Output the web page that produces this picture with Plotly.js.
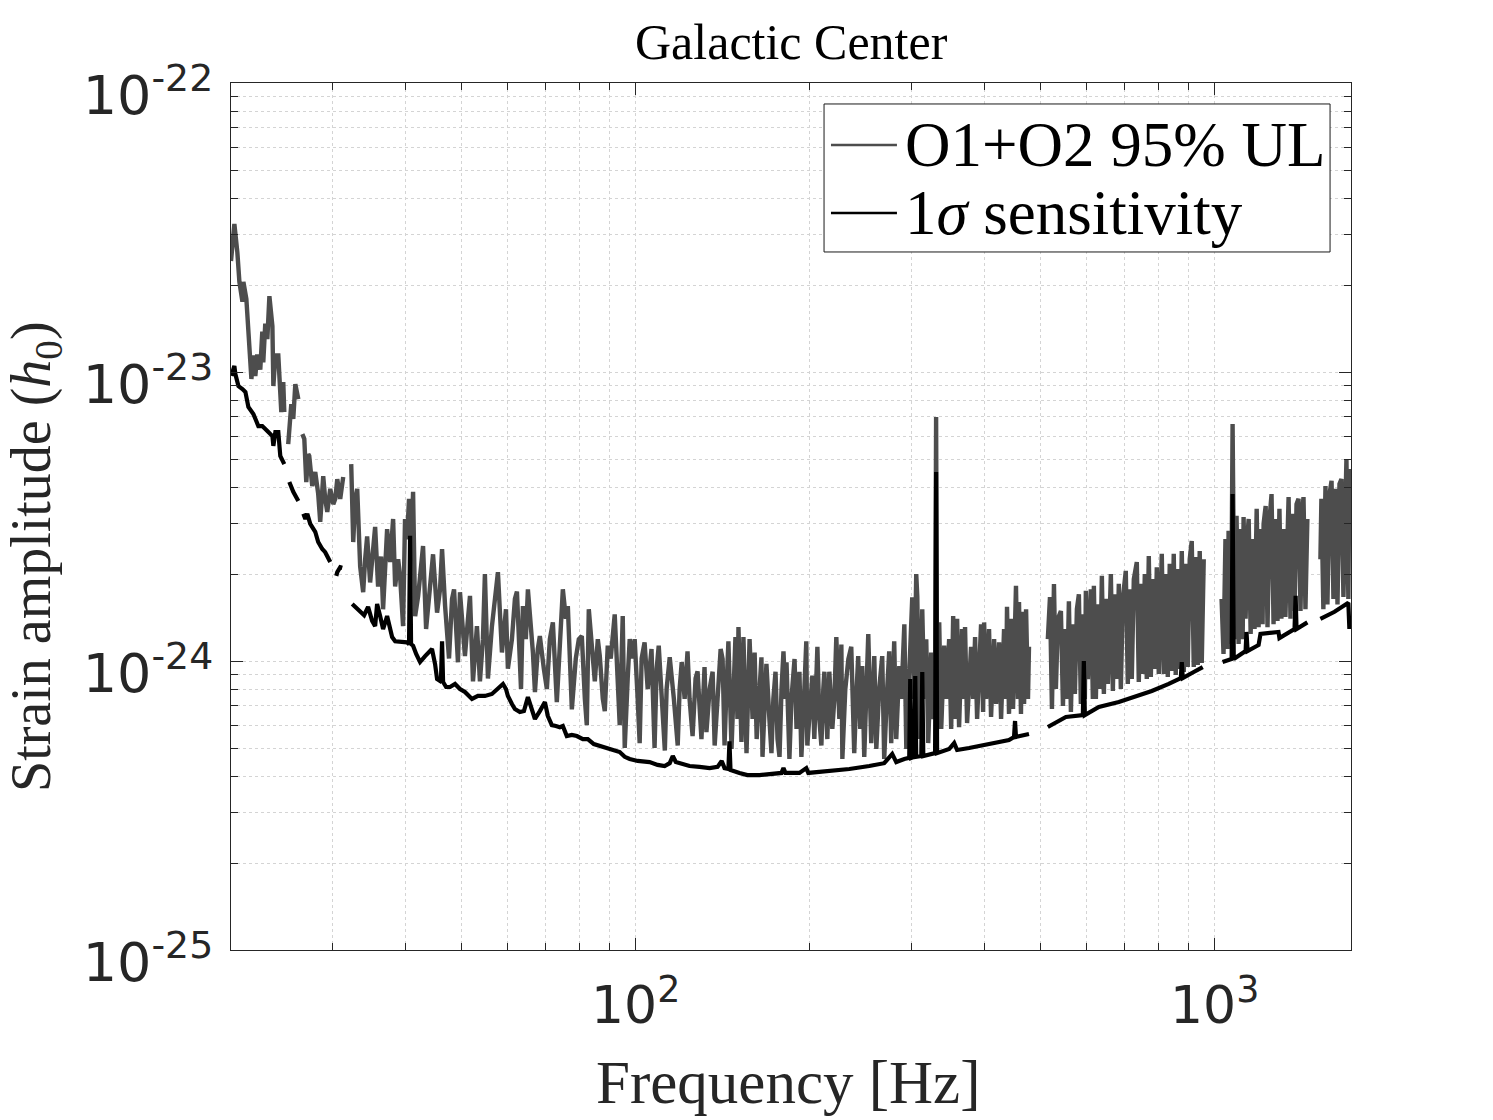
<!DOCTYPE html>
<html>
<head>
<meta charset="utf-8">
<script src="https://cdn.plot.ly/plotly-3.0.1.min.js"></script>
<style>
  html, body { margin: 0; padding: 0; background: #ffffff; }
  #chart { width: 1493px; height: 1120px; }
</style>
</head>
<body>
<div id="chart"></div>
<script>
// Strain values are stored in units of 1e-24; null marks a gap between frequency bands.
const STRAIN_UNIT = 1e-24;

// O1+O2 95% upper limit
const ulFreqHz = [
  20.0, 20.27, 20.51, 20.68, 20.93, 21.01, 21.26, 21.43, 21.69, 21.86, 22.03, 22.2, 22.47, 22.65, 22.74, 22.92, 23.11, 23.3, 23.58, 23.67, 23.86, 24.14, 24.43, 24.62, 24.72,
  null,
  25.11, 25.42, 25.62, 25.83, 26.14,
  null,
  26.56, 26.77, 26.98, 27.19, 27.3, 27.63, 27.96, 28.29, 28.52, 28.86, 29.09, 29.33, 29.68, 30.04, 30.28, 30.52, 30.88, 31.25,
  null,
  32.26, 32.52, 32.78, 33.04, 33.43, 33.83, 34.1, 34.37, 34.78, 35.2,
  35.48, 35.9, 36.33, 36.62, 36.92, 37.21, 37.66, 38.11, 38.42, 38.88,
  39.18, 39.65, 39.96, 40.28, 40.6, 40.93, 41.26, 41.6, 42.1, 42.42,
  42.93, 43.45, 44.14, 44.67, 45.39, 45.93, 46.3, 46.86, 47.6, 48.17,
  48.56, 49.32, 49.72, 50.71, 51.33, 51.74, 52.36, 53.19, 53.83, 54.47,
  54.9, 55.57, 56.46, 57.13, 57.82, 58.75, 59.7, 60.16, 61.13, 61.86,
  62.36, 63.38, 63.86, 64.61, 65.14, 66.45, 66.99, 67.76, 68.31, 69.4,
  70.24, 71.08, 71.94, 73.08, 73.96, 74.85, 75.76, 76.35, 77.58, 78.81,
  79.76, 80.72, 81.7, 82.33, 82.99, 83.99, 85.0, 86.02, 86.7, 87.74,
  88.44, 89.49, 90.56, 92.0, 93.1, 93.85, 94.98, 95.74, 96.88, 97.65,
  98.82, 99.6, 100.8, 101.6, 102.4, 103.6, 104.9, 106.5, 107.8, 108.7,
  109.6, 110.9, 112.3, 113.1, 114.5, 116.4, 118.2, 119.1, 120.1, 121.5,
  122.9, 123.9, 125.4, 126.9, 127.9,
  129.9, 131.5, 132.5, 134.2, 135.8, 136.9, 138.5, 140.2, 141.3, 142.4,
  143.5, 144.6, 146.4, 147.5, 148.7, 149.9, 150.5, 152.3, 153.5, 155.4,
  156.6, 157.3, 159.2, 160.5, 161.8, 163.6, 164.9, 165.6, 166.9, 168.2,
  170.2, 171.6, 172.9, 174.4, 175.8, 177.2, 178.6, 180.0, 181.4, 182.2,
  184.3, 185.8, 188.1, 189.6, 191.8, 193.3, 195.6, 197.1, 197.9, 200.3,
  201.9, 203.5, 206.0, 207.6, 209.3, 210.9, 211.8, 214.3, 216.0, 218.6,
  220.4, 222.1, 224.8, 226.6, 227.5, 230.2, 233.0, 235.7, 238.5, 240.4,
  242.3, 244.3, 246.2, 248.2, 250.2, 252.2, 255.2, 258.3, 260.4, 263.4,
  266.6, 268.7, 271.9, 274.1, 276.3, 279.6, 281.9, 285.3, 287.6, 291.1,
  293.4, 296.8, 299.2, 300.4, 302.8, 305.2, 306.5, 308.9, 312.6, 315.1,
  317.6, 320.1, 323.9, 326.5, 329.0, 330.3, 331.6, 334.4, 337.1, 341.1,
  343.8, 347.9, 350.7, 353.5, 356.3, 359.1, 361.9, 366.2, 369.2, 370.6,
  373.6, 379.6, 382.7, 385.7, 388.8, 395.0, 398.2, 399.8, 403.0, 407.7,
  411.0, 416.0, 419.3, 424.3, 427.7, 432.8, 436.2, 437.9, 441.4, 444.9,
  448.5, 453.8, 457.4, 459.3, 462.9, 464.8, 468.6, 472.4, 476.0, 477.9,
  null,
  515.1, 519.5, 523.6, 527.8, 531.9, 536.2, 542.6, 547.0, 551.3, 555.7,
  560.1, 564.6, 569.1, 573.6, 578.2, 582.8, 587.4, 592.1, 596.8, 599.2,
  604.0, 608.8, 611.2, 616.1, 618.6, 623.5, 628.5, 633.5, 638.6, 643.7,
  648.8, 654.0, 661.8, 667.1, 672.4, 677.8, 683.1, 688.6, 694.1, 702.3,
  708.0, 713.6, 719.3, 725.1, 733.8, 739.6, 745.5, 751.5, 757.5, 763.5,
  769.6, 775.8, 782.0, 788.2, 794.5, 800.8, 810.4, 816.9, 823.4, 830.0,
  836.5, 843.2, 849.9, 856.7, 863.5, 870.5, 877.5, 884.5, 891.5, 898.6,
  905.7, 913.0, 920.3, 927.6, 935.0, 942.4, 950.0, 957.6,
  null,
  1028, 1036, 1044, 1053, 1057, 1066, 1070, 1074, 1079, 1083,
  1091, 1100, 1109, 1118, 1122, 1131, 1140, 1145, 1154, 1163,
  1172, 1182, 1191, 1200, 1210, 1215, 1225, 1234, 1244, 1254,
  1264, 1274, 1284, 1294, 1304, 1315, 1325, 1342, 1352, 1363,
  1374, 1385, 1396, 1407, 1418, 1424, 1435, 1446,
  null,
  1523, 1529, 1541, 1554, 1566, 1579, 1592, 1604, 1617, 1630,
  1643, 1656, 1669, 1683, 1689, 1702, 1709
];

const ulStrain = [
  24.2, 32.5, 26.0, 20.5, 17.5, 20.5, 17.9, 14.4, 9.46, 11.4, 9.69, 11.5, 10.2, 13.8, 10.8, 14.7, 13.0, 18.3, 14.4, 8.94, 11.4, 11.4, 7.27, 9.23, 7.27,
  null,
  5.63, 7.74, 6.88, 9.08, 8.06,
  null,
  6.10, 5.87, 4.16, 5.2, 5.12, 4.03, 4.51, 3.79, 3.03, 4.36, 3.64, 3.28, 3.94, 3.49, 3.64, 4.26, 3.64, 4.33,
  null,
  4.8, 2.58, 3.64, 3.94, 2.12, 1.73, 2.25, 2.70, 1.87, 2.53,
  2.91, 1.81, 2.30, 1.51, 2.08, 2.86, 2.20, 3.10, 1.81, 2.25,
  1.97, 1.32, 3.10, 2.64, 3.64, 2.25, 3.85, 1.43, 1.68, 1.92,
  2.50, 1.29, 1.77, 2.34, 1.47, 1.77, 2.44, 1.55, 1.02, 1.64,
  1.77, 0.99, 1.73, 1.04, 1.40, 1.68, 0.85, 1.32, 0.85, 1.19,
  2.0, 0.87, 1.32, 1.64, 2.03, 1.07, 1.51, 0.94, 1.19, 1.64,
  1.74, 0.80, 1.55, 1.19, 1.77, 1.07, 0.78, 1.10, 1.22, 0.94,
  0.80, 1.19, 1.36, 0.72, 1.10, 1.77, 1.40, 1.55, 0.68, 1.02,
  1.19, 1.22, 0.74, 0.60, 1.51, 1.10, 0.85, 1.19, 1.04, 0.74,
  0.67, 1.13, 1.02, 1.45, 0.74, 0.60, 1.43, 0.50, 0.87, 1.19,
  1.02, 1.19, 0.74, 0.52, 1.02, 1.16, 0.80, 1.10, 0.50, 0.94,
  1.13, 0.74, 0.49, 0.80, 1.03, 0.74, 0.51, 0.80, 0.99, 0.74,
  1.08, 0.74, 0.55, 0.87, 0.92,
  0.537, 0.953, 0.567, 0.80, 0.918, 0.51, 0.739, 1.10, 1.016, 0.51,
  0.80, 1.17, 0.496, 0.866, 1.21, 0.63, 1.31, 0.525, 1.21, 0.48,
  0.80, 1.19, 0.63, 1.07, 0.537, 0.80, 1.03, 0.466, 0.739, 0.978,
  0.63, 0.48, 0.739, 0.918, 0.537, 0.466, 0.80, 1.08, 0.739, 0.99,
  0.458, 0.739, 1.016, 0.582, 0.918, 0.466, 0.80, 1.17, 0.51, 0.739,
  0.89, 0.537, 1.12, 0.63, 0.51, 0.80, 0.918, 0.537, 0.918, 0.582,
  0.739, 1.21, 0.63, 1.14, 0.458, 0.80, 1.016, 1.12, 0.48, 0.739,
  1.04, 0.582, 0.96, 0.466, 0.80, 1.24, 0.52, 1.04, 0.496, 0.80,
  1.04, 0.458, 0.80, 1.08, 0.52, 1.17, 0.537, 0.96, 0.739, 1.34,
  0.496, 0.866, 1.22, 1.66, 0.739, 2.0, 1.67, 0.537, 1.51, 0.739,
  1.19, 0.52, 1.07, 0.63, 0.739, 6.99, 0.739, 1.36, 0.582, 1.13,
  0.739, 1.19, 0.582, 1.43, 0.63, 1.40, 0.59, 1.29, 0.739, 1.31,
  0.61, 1.12, 0.739, 1.21, 0.63, 1.34, 0.666, 1.36, 0.739, 1.29,
  0.64, 1.19, 0.71, 1.16, 0.63, 1.29, 0.739, 1.54, 0.656, 1.40,
  0.682, 1.82, 0.739, 1.60, 0.656, 1.48, 0.71, 1.51, 0.739, 1.12,
  null,
  1.19, 1.665, 0.682, 1.846, 0.80, 1.40, 1.49, 0.699, 1.29, 0.739,
  1.61, 0.666, 1.34, 0.769, 1.51, 1.70, 0.71, 1.45, 0.739, 1.75,
  0.866, 1.51, 1.77, 0.739, 1.82, 0.739, 1.57, 0.80, 1.97, 0.769,
  1.64, 0.833, 2.0, 0.787, 1.70, 0.866, 1.85, 0.80, 1.64, 2.05,
  0.833, 1.77, 0.866, 1.92, 2.20, 0.846, 1.85, 0.902, 2.0, 0.866,
  2.31, 0.88, 1.92, 0.938, 2.11, 0.902, 2.35, 0.902, 2.0, 0.88,
  2.17, 0.923, 2.35, 0.895, 2.08, 0.938, 2.40, 0.916, 2.17, 0.953,
  2.25, 2.60, 0.953, 2.29, 0.969, 2.40, 0.984, 2.25,
  null,
  1.64, 1.057, 2.64, 1.10, 2.82, 1.145, 2.25, 6.61, 2.25, 1.19,
  3.18, 1.145, 2.86, 1.19, 3.15, 1.40, 2.75, 3.10, 1.24, 2.64,
  1.29, 3.36, 1.31, 2.86, 1.34, 2.98, 3.44, 1.31, 3.10, 3.78,
  1.34, 3.10, 1.375, 3.36, 1.40, 2.86, 1.42, 3.69, 1.40, 3.23,
  1.49, 3.49, 3.64, 1.49, 3.36, 3.69, 1.51, 3.10,
  null,
  2.25, 3.64, 1.51, 4.03, 1.57, 3.78, 4.20, 1.64, 3.94, 1.57,
  4.10, 4.26, 1.665, 3.94, 5.0, 1.64, 4.62
];

// 1-sigma sensitivity
const sensFreqHz = [
  20.03, 20.27, 20.35, 20.6, 20.93, 21.18, 21.43, 21.86, 22.3, 22.65, 23.11, 23.58, 23.67, 23.86, 24.14, 24.33, 24.72,
  null,
  25.22, 25.62, 26.14,
  null,
  26.67, 26.88, 27.09, 27.41, 27.96, 28.29, 28.75, 29.09, 29.68,
  null,
  30.4, 30.52, 30.88, 31.13,
  null,
  32.39, 32.78, 33.43, 33.96, 34.5, 35.06, 35.48, 35.76, 36.19, 36.62,
  37.21, 37.66, 37.96, 38.42, 39.5, 40.28, 40.6, 40.77, 40.93, 41.26,
  41.77, 42.42, 43.28, 44.48, 45.03, 45.39, 45.93, 46.1, 46.3, 46.49,
  47.05, 47.79, 48.75, 49.72, 50.71, 52.15, 53.4, 54.9, 56.46, 58.28,
  58.99, 59.7, 60.16, 61.13, 61.86, 63.1, 64.12, 65.14, 65.92, 66.99,
  68.31, 69.7, 70.52, 71.65, 72.8, 73.96, 74.85, 76.04, 77.58, 79.15,
  81.05, 82.66, 84.67, 86.7, 89.15, 91.29, 93.85, 95.74, 97.65, 100.8,
  103.6, 105.7, 109.1, 112.2, 114.5, 115.9, 117.3, 120.6, 123.9, 128.9,
  134.2, 138.5, 140.8, 142.4, 144.6, 145.2, 145.8, 151.1, 155.9, 163.6,
  171.6, 178.6, 180.0, 181.4, 191.8, 197.1, 198.7, 216.0, 233.9, 253.2,
  268.7, 277.4, 281.9, 291.1, 296.8, 298.0, 299.2, 302.8, 304.0, 305.2,
  311.4, 312.6, 313.9, 329.0, 330.3, 331.6, 347.9, 354.9, 359.1, 376.6,
  411.0, 441.4, 450.3, 452.1, 453.8, 477.9,
  null,
  515.1, 553.5, 592.1, 594.4, 596.8, 631.0, 683.1, 739.6, 778.9, 833.2,
  874.0, 877.5, 881.0, 920.3, 953.8,
  null,
  1032, 1070, 1074, 1079, 1131, 1135, 1140, 1191, 1200, 1289,
  1294, 1374, 1380, 1385, 1446,
  null,
  1523, 1611, 1702, 1709
];

const sensStrain = [
  9.69, 10.5, 9.84, 8.94, 8.73, 8.53, 7.57, 7.16, 6.50, 6.50, 6.25, 6.0, 5.55, 6.2, 6.2, 5.12, 4.80,
  null,
  4.16, 3.85, 3.58,
  null,
  3.23, 3.10, 3.23, 2.98, 2.80, 2.58, 2.44, 2.38, 2.20,
  null,
  1.97, 2.03, 2.11, 2.10,
  null,
  1.575, 1.54, 1.48, 1.44, 1.54, 1.375, 1.32, 1.575, 1.43, 1.29,
  1.43, 1.31, 1.21, 1.17, 1.16, 1.16, 1.145, 2.71, 1.145, 1.13,
  1.057, 0.992, 1.04, 1.10, 0.976, 0.866, 0.853, 0.866, 1.17, 0.846,
  0.813, 0.813, 0.833, 0.80, 0.781, 0.739, 0.757, 0.757, 0.769, 0.813,
  0.833, 0.80, 0.757, 0.71, 0.682, 0.666, 0.671, 0.75, 0.693, 0.63,
  0.671, 0.721, 0.645, 0.60, 0.596, 0.59, 0.596, 0.55, 0.555, 0.55,
  0.537, 0.537, 0.516, 0.508, 0.50, 0.492, 0.484, 0.466, 0.458, 0.451,
  0.447, 0.447, 0.437, 0.433, 0.443, 0.469, 0.447, 0.44, 0.433, 0.43,
  0.426, 0.43, 0.451, 0.426, 0.423, 0.527, 0.42, 0.41, 0.403, 0.403,
  0.406, 0.41, 0.426, 0.41, 0.41, 0.426, 0.41, 0.416, 0.423, 0.433,
  0.443, 0.477, 0.447, 0.458, 0.462, 0.866, 0.462, 0.466, 0.887, 0.466,
  0.469, 0.916, 0.469, 0.48, 4.51, 0.48, 0.496, 0.52, 0.492, 0.50,
  0.516, 0.533, 0.546, 0.62, 0.546, 0.559,
  null,
  0.591, 0.64, 0.65, 1.0, 0.65, 0.693, 0.721, 0.757, 0.787, 0.833,
  0.873, 0.992, 0.873, 0.916, 0.953,
  null,
  0.992, 1.016, 3.78, 1.016, 1.083, 1.26, 1.083, 1.136, 1.24, 1.26,
  1.20, 1.29, 1.68, 1.29, 1.36,
  null,
  1.40, 1.48, 1.59, 1.29
];

const seriesNames = ['O1+O2 95% UL', '1<i>σ</i> sensitivity'];
const seriesColors = ['#4d4d4d', '#000000'];

const xTickVals = [100, 1000];
const xTickText = ['10<sup>2</sup>', '10<sup>3</sup>'];
const yTickVals = [1e-25, 1e-24, 1e-23, 1e-22];
const yTickText = ['10<sup>-25</sup>', '10<sup>-24</sup>', '10<sup>-23</sup>', '10<sup>-22</sup>'];

// minor log ticks (2..9 within each decade)
function minorTicks(lowExp, highExp) {
  const out = [];
  for (let e = lowExp; e < highExp; e++) {
    for (let k = 2; k <= 9; k++) out.push(k * Math.pow(10, e));
  }
  return out;
}

const toStrain = arr => arr.map(v => (v === null ? null : v * STRAIN_UNIT));

const traces = [
  {
    x: ulFreqHz, y: toStrain(ulStrain),
    type: 'scatter', mode: 'lines', name: seriesNames[0],
    line: { color: seriesColors[0], width: 4.4 },
    connectgaps: false, showlegend: false
  },
  {
    x: sensFreqHz, y: toStrain(sensStrain),
    type: 'scatter', mode: 'lines', name: seriesNames[1],
    line: { color: seriesColors[1], width: 4.2 },
    connectgaps: false, showlegend: false
  }
];

const axisColor = '#262626';
const gridColor = '#d4d4d4';
const serif = 'Liberation Serif, Times New Roman, serif';

// legend box drawn in paper coordinates (top-right corner of the axes)
const legendBox = { x0: 0.5295, x1: 0.9813, y0: 0.8051, y1: 0.9758 };
const legendRows = [0.9285, 0.8501];
const legendSample = { x0: 0.5357, x1: 0.5946 };
const legendTextX = 0.6;

const legendShapes = [
  {
    type: 'rect', xref: 'paper', yref: 'paper',
    x0: legendBox.x0, x1: legendBox.x1, y0: legendBox.y0, y1: legendBox.y1,
    line: { color: '#1a1a1a', width: 1 }, fillcolor: '#ffffff', layer: 'above'
  }
].concat(legendRows.map((ry, i) => ({
  type: 'line', xref: 'paper', yref: 'paper',
  x0: legendSample.x0, x1: legendSample.x1, y0: ry, y1: ry,
  line: { color: seriesColors[i], width: 2.6 }, layer: 'above'
})));

const legendLabels = legendRows.map((ry, i) => ({
  text: seriesNames[i], xref: 'paper', yref: 'paper',
  x: legendTextX, y: ry, xanchor: 'left', yanchor: 'middle', showarrow: false,
  font: { family: serif, size: 63, color: '#000000' }
}));

const layout = {
  width: 1493, height: 1120,
  margin: { l: 231, r: 142, t: 83, b: 170, pad: 0 },
  paper_bgcolor: '#ffffff', plot_bgcolor: '#ffffff',
  showlegend: false,
  xaxis: {
    type: 'log',
    range: [Math.log10(20), Math.log10(1720)],
    tickmode: 'array', tickvals: xTickVals, ticktext: xTickText,
    ticks: 'inside', ticklen: 12, tickwidth: 1, tickcolor: axisColor,
    showline: true, linecolor: axisColor, linewidth: 1, mirror: 'allticks',
    showgrid: true, gridcolor: gridColor, griddash: 'dot', gridwidth: 1,
    zeroline: false,
    tickfont: { family: 'DejaVu Sans', size: 52, color: axisColor },
    ticklabelstandoff: 10,
    minor: {
      tickmode: 'array', tickvals: minorTicks(1, 4),
      ticks: 'inside', ticklen: 7, tickwidth: 1, tickcolor: axisColor,
      showgrid: true, gridcolor: gridColor, griddash: 'dot', gridwidth: 1
    }
  },
  yaxis: {
    type: 'log',
    range: [-25, -22],
    tickmode: 'array', tickvals: yTickVals, ticktext: yTickText,
    ticks: 'inside', ticklen: 12, tickwidth: 1, tickcolor: axisColor,
    showline: true, linecolor: axisColor, linewidth: 1, mirror: 'allticks',
    showgrid: true, gridcolor: gridColor, griddash: 'dot', gridwidth: 1,
    zeroline: false,
    tickfont: { family: 'DejaVu Sans', size: 54, color: axisColor },
    ticklabelstandoff: 6,
    ticklabelshift: 12,
    minor: {
      tickmode: 'array', tickvals: minorTicks(-25, -22),
      ticks: 'inside', ticklen: 7, tickwidth: 1, tickcolor: axisColor,
      showgrid: true, gridcolor: gridColor, griddash: 'dot', gridwidth: 1
    }
  },
  shapes: legendShapes,
  annotations: [
    {
      text: 'Galactic Center', xref: 'paper', yref: 'paper',
      x: 0.5, y: 1.0473, xanchor: 'center', yanchor: 'middle', showarrow: false,
      font: { family: serif, size: 50, color: '#000000' }
    },
    {
      text: 'Frequency [Hz]', xref: 'paper', yref: 'paper',
      x: 0.4974, y: -0.1534, xanchor: 'center', yanchor: 'middle', showarrow: false,
      font: { family: serif, size: 61, color: axisColor }
    },
    {
      text: 'Strain amplitude (<i>h</i><sub>0</sub>)', xref: 'paper', yref: 'paper',
      x: -0.175, y: 0.4533, xanchor: 'center', yanchor: 'middle', showarrow: false,
      textangle: -90,
      font: { family: serif, size: 56, color: axisColor }
    }
  ].concat(legendLabels),
  hovermode: false
};

Plotly.newPlot('chart', traces, layout, { staticPlot: true, displayModeBar: false });
</script>
</body>
</html>
